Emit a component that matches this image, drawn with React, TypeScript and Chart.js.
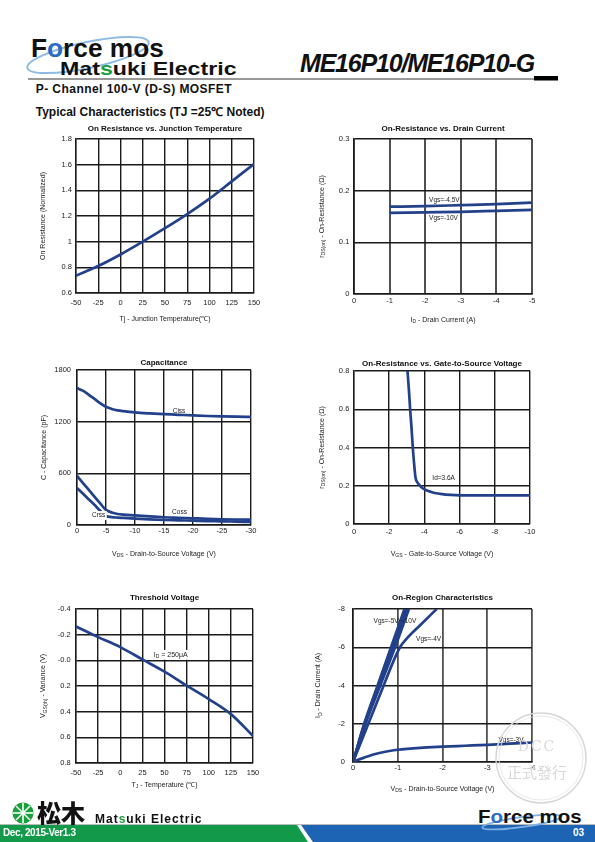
import React, { useEffect, useRef } from "react";
import { Chart, registerables } from "chart.js";

Chart.register(...registerables);

const FONT = '"Liberation Sans", Arial, Helvetica, sans-serif';
const LINE = "#22418a";

// ---------- Chart 1: On Resistance vs Junction Temperature ----------
const tjTemps = [-50, -25, 0, 25, 50, 75, 100, 125, 150];
const rdsNormalized = [0.735, 0.81, 0.9, 1.0, 1.105, 1.215, 1.335, 1.47, 1.605];
const c1XTicks = [-50, -25, 0, 25, 50, 75, 100, 125, 150];
const c1XLabels = ["-50", "-25", "0", "25", "50", "75", "100", "125", "150"];
const c1YTicks = [0.6, 0.8, 1, 1.2, 1.4, 1.6, 1.8];
const c1YLabels = ["0.6", "0.8", "1", "1.2", "1.4", "1.6", "1.8"];

// ---------- Chart 2: On-Resistance vs Drain Current ----------
const drainCurrents = [-1, -2, -3, -4, -5];
const rdsVgs45 = [0.169, 0.17, 0.172, 0.174, 0.177];
const rdsVgs10 = [0.157, 0.158, 0.159, 0.161, 0.163];
const c2XTicks = [0, -1, -2, -3, -4, -5];
const c2XLabels = ["0", "-1", "-2", "-3", "-4", "-5"];
const c2YTicks = [0, 0.1, 0.2, 0.3];
const c2YLabels = ["0", "0.1", "0.2", "0.3"];

// ---------- Chart 3: Capacitance ----------
const vdsCap = [0, -1, -2, -3, -4, -5, -6, -7, -8, -10, -12.5, -15, -17.5, -20, -22.5, -25, -27.5, -30];
const ciss = [1590, 1560, 1515, 1465, 1415, 1373, 1348, 1332, 1322, 1307, 1296, 1288, 1280, 1272, 1266, 1261, 1258, 1256];
const coss = [570, 490, 410, 330, 250, 175, 145, 128, 120, 112, 100, 90, 84, 78, 72, 67, 64, 62];
const crss = [430, 365, 300, 235, 165, 105, 92, 86, 82, 74, 65, 58, 54, 50, 46, 43, 39, 35];
const c3XTicks = [0, -5, -10, -15, -20, -25, -30];
const c3XLabels = ["0", "-5", "-10", "-15", "-20", "-25", "-30"];
const c3YTicks = [0, 600, 1200, 1800];
const c3YLabels = ["0", "600", "1200", "1800"];

// ---------- Chart 4: On-Resistance vs Gate-to-Source Voltage ----------
const vgsSweep = [-3.04, -3.12, -3.19, -3.27, -3.34, -3.42, -3.5, -3.62, -3.75, -3.9, -4.1, -4.35, -4.6, -5, -5.5, -6, -7, -8, -9, -10];
const rdsVsVgs = [0.8, 0.7, 0.6, 0.5, 0.4, 0.31, 0.24, 0.215, 0.2, 0.187, 0.177, 0.169, 0.162, 0.156, 0.152, 0.15, 0.15, 0.15, 0.15, 0.15];
const c4XTicks = [0, -2, -4, -6, -8, -10];
const c4XLabels = ["0", "-2", "-4", "-6", "-8", "-10"];
const c4YTicks = [0, 0.2, 0.4, 0.6, 0.8];
const c4YLabels = ["0", "0.2", "0.4", "0.6", "0.8"];

// ---------- Chart 5: Threshold Voltage ----------
const vthVariance = [-0.264, -0.181, -0.103, -0.007, 0.088, 0.197, 0.302, 0.419, 0.589];
const c5YTicks = [-0.4, -0.2, 0, 0.2, 0.4, 0.6, 0.8];
const c5YLabels = ["-0.4", "-0.2", "-0.0", "0.2", "0.4", "0.6", "0.8"];

// ---------- Chart 6: On-Region Characteristics ----------
const vdsVgs10 = [0, -0.25, -0.55, -0.85, -1.15];
const idVgs10 = [0, -2, -4, -6, -8];
const vdsVgs8 = [0, -0.26, -0.57, -0.88, -1.18];
const idVgs8 = [0, -2, -4, -6, -8];
const vdsVgs6 = [0, -0.27, -0.59, -0.91, -1.21];
const idVgs6 = [0, -2, -4, -6, -8];
const vdsVgs5 = [0, -0.28, -0.61, -0.94, -1.25];
const idVgs5 = [0, -2, -4, -6, -8];
const vdsVgs4 = [0, -0.3, -0.6, -0.9, -1.05, -1.2, -1.5, -1.87];
const idVgs4 = [0, -1.75, -3.5, -5.25, -6.0, -6.45, -7.15, -8];
const vdsVgs3 = [0, -0.1, -0.25, -0.5, -0.75, -1, -1.5, -2, -2.5, -3, -3.5, -4];
const idVgs3 = [0, -0.1, -0.23, -0.42, -0.55, -0.64, -0.74, -0.8, -0.85, -0.9, -0.96, -1.02];
const c6XTicks = [0, -1, -2, -3, -4];
const c6XLabels = ["0", "-1", "-2", "-3", "-4"];
const c6YTicks = [0, -2, -4, -6, -8];
const c6YLabels = ["0", "-2", "-4", "-6", "-8"];

// ---------- text helpers ----------
type Part = { t: string; sub: boolean };
function parseRich(text: string): Part[] {
  const parts: Part[] = [];
  const re = /_\{([^}]*)\}/g;
  let last = 0;
  let m: RegExpExecArray | null;
  while ((m = re.exec(text))) {
    if (m.index > last) parts.push({ t: text.slice(last, m.index), sub: false });
    parts.push({ t: m[1], sub: true });
    last = re.lastIndex;
  }
  if (last < text.length) parts.push({ t: text.slice(last), sub: false });
  return parts;
}

function drawRich(ctx: CanvasRenderingContext2D, text: string, x: number, y: number, rot: number, size: number, center: boolean, bg?: boolean) {
  const parts = parseRich(text);
  const main = `${size}px ${FONT}`;
  const sub = `${(size * 0.72).toFixed(2)}px ${FONT}`;
  let total = 0;
  const widths = parts.map((p) => {
    ctx.font = p.sub ? sub : main;
    const w = ctx.measureText(p.t).width;
    total += w;
    return w;
  });
  ctx.save();
  ctx.translate(x, y);
  ctx.rotate(rot);
  let px = center ? -total / 2 : 0;
  if (bg) {
    ctx.fillStyle = "#fff";
    ctx.fillRect(px - 1.5, -size * 0.7, total + 3, size * 1.4);
  }
  ctx.fillStyle = "#1a1a1a";
  ctx.textBaseline = "middle";
  ctx.textAlign = "left";
  parts.forEach((p, i) => {
    ctx.font = p.sub ? sub : main;
    ctx.fillText(p.t, px, p.sub ? size * 0.3 : 0);
    px += widths[i];
  });
  ctx.restore();
}

type Note = { x: number; y: number; text: string; bg?: boolean; size?: number };

const sheetText = {
  id: "sheetText",
  afterDraw(chart: any, _args: any, opts: any) {
    const ctx: CanvasRenderingContext2D = chart.ctx;
    const a = chart.chartArea;
    const cx = (a.left + a.right) / 2;
    const cy = (a.top + a.bottom) / 2;
    ctx.save();
    ctx.font = `bold 8px ${FONT}`;
    ctx.fillStyle = "#111";
    ctx.textAlign = "center";
    ctx.textBaseline = "middle";
    ctx.fillText(opts.title, cx, opts.titleY);
    drawRich(ctx, opts.xTitle, cx, opts.xTitleY, 0, 7, true);
    drawRich(ctx, opts.yTitle, opts.yTitleX, cy, -Math.PI / 2, 7, true);
    const xs = chart.scales.x;
    const ys = chart.scales.y;
    (opts.notes as Note[]).forEach((n) => {
      drawRich(ctx, n.text, xs.getPixelForValue(n.x), ys.getPixelForValue(n.y), 0, n.size || 6.5, false, n.bg);
    });
    ctx.restore();
  },
};

type Series = { xs: number[]; ys: number[] };
type Spec = {
  canvas: [number, number, number, number];
  plot: [number, number, number, number];
  title: string;
  titleY: number;
  xTitle: string;
  xTitleY: number;
  yTitle: string;
  yTitleX: number;
  xMin: number;
  xMax: number;
  xReverse: boolean;
  yMin: number;
  yMax: number;
  yReverse: boolean;
  xTicks: number[];
  xLabels: string[];
  yTicks: number[];
  yLabels: string[];
  xPad: number;
  yPad: number;
  series: Series[];
  notes: Note[];
  xGridColor?: string;
  xGridWidth?: number;
};

function buildConfig(s: Spec): any {
  const [cx, cy, cw, ch] = s.canvas;
  const [pl, pt, pr, pb] = s.plot;
  const gridColor = "#1a1a1a";
  const tickFont = { family: FONT, size: 7.5 };
  return {
    type: "line",
    data: {
      datasets: s.series.map((ser) => ({
        data: ser.xs.map((x, i) => ({ x, y: ser.ys[i] })),
        borderColor: LINE,
        borderWidth: 2.7,
        pointRadius: 0,
        fill: false,
        cubicInterpolationMode: "monotone",
      })),
    },
    plugins: [sheetText],
    options: {
      responsive: false,
      animation: false,
      devicePixelRatio: 1,
      events: [],
      layout: { padding: { left: 0, top: pt - cy, right: cx + cw - pr, bottom: 0 } },
      plugins: {
        legend: { display: false },
        tooltip: { enabled: false },
        title: { display: false },
        sheetText: {
          title: s.title,
          titleY: s.titleY - cy,
          xTitle: s.xTitle,
          xTitleY: s.xTitleY - cy,
          yTitle: s.yTitle,
          yTitleX: s.yTitleX - cx,
          notes: s.notes,
        },
      },
      scales: {
        x: {
          type: "linear",
          min: s.xMin,
          max: s.xMax,
          reverse: s.xReverse,
          afterFit: (sc: any) => {
            sc.height = cy + ch - pb;
          },
          afterBuildTicks: (sc: any) => {
            sc.ticks = s.xTicks.map((v) => ({ value: v }));
          },
          ticks: {
            callback: (_v: any, i: number) => s.xLabels[i],
            padding: s.xPad,
            font: tickFont,
            color: "#222",
            autoSkip: false,
            maxRotation: 0,
            minRotation: 0,
          },
          grid: { color: s.xGridColor || gridColor, lineWidth: s.xGridWidth || 1.4, drawTicks: false },
          border: { color: gridColor, width: 1.4 },
        },
        y: {
          type: "linear",
          min: s.yMin,
          max: s.yMax,
          reverse: s.yReverse,
          afterFit: (sc: any) => {
            sc.width = pl - cx;
          },
          afterBuildTicks: (sc: any) => {
            sc.ticks = s.yTicks.map((v) => ({ value: v }));
          },
          ticks: {
            callback: (_v: any, i: number) => s.yLabels[i],
            padding: s.yPad,
            font: tickFont,
            color: "#222",
            autoSkip: false,
          },
          grid: { color: gridColor, lineWidth: 1.4, drawTicks: false },
          border: { color: gridColor, width: 1.4 },
        },
      },
    },
  };
}

const specs: Spec[] = [
  {
    canvas: [30, 120, 240, 210],
    plot: [76, 139, 254, 293],
    title: "On Resistance vs. Junction Temperature",
    titleY: 129,
    xTitle: "Tj - Junction Temperature(℃)",
    xTitleY: 319,
    yTitle: "On Resistance (Normalized)",
    yTitleX: 43,
    xMin: -50, xMax: 150, xReverse: false,
    yMin: 0.6, yMax: 1.8, yReverse: false,
    xTicks: c1XTicks, xLabels: c1XLabels, yTicks: c1YTicks, yLabels: c1YLabels,
    xPad: 5.5, yPad: 4,
    series: [{ xs: tjTemps, ys: rdsNormalized }],
    notes: [],
  },
  {
    canvas: [310, 120, 240, 210],
    plot: [354, 139, 532, 294],
    title: "On-Resistance vs. Drain Current",
    titleY: 129,
    xTitle: "I_{D} - Drain Current (A)",
    xTitleY: 320,
    yTitle: "r_{DS(on)} - On-Resistance (Ω)",
    yTitleX: 322,
    xMin: -5, xMax: 0, xReverse: true,
    yMin: 0, yMax: 0.3, yReverse: false,
    xTicks: c2XTicks, xLabels: c2XLabels, yTicks: c2YTicks, yLabels: c2YLabels,
    xPad: 2, yPad: 4.7,
    series: [
      { xs: drainCurrents, ys: rdsVgs45 },
      { xs: drainCurrents, ys: rdsVgs10 },
    ],
    notes: [
      { x: -2.11, y: 0.182, text: "Vgs=-4.5V" },
      { x: -2.11, y: 0.147, text: "Vgs=-10V" },
    ],
    xGridColor: "#505050",
    xGridWidth: 2,
  },
  {
    canvas: [30, 355, 240, 210],
    plot: [77, 370, 251, 525],
    title: "Capacitance",
    titleY: 362.3,
    xTitle: "V_{DS} - Drain-to-Source Voltage (V)",
    xTitleY: 554,
    yTitle: "C - Capacitance (pF)",
    yTitleX: 44,
    xMin: -30, xMax: 0, xReverse: true,
    yMin: 0, yMax: 1800, yReverse: false,
    xTicks: c3XTicks, xLabels: c3XLabels, yTicks: c3YTicks, yLabels: c3YLabels,
    xPad: 1.8, yPad: 6,
    series: [
      { xs: vdsCap, ys: ciss },
      { xs: vdsCap, ys: coss },
      { xs: vdsCap, ys: crss },
    ],
    notes: [
      { x: -16.5, y: 1327, text: "Ciss" },
      { x: -16.4, y: 143, text: "Coss" },
      { x: -2.58, y: 109, text: "Crss", bg: true },
    ],
  },
  {
    canvas: [310, 355, 240, 210],
    plot: [354, 371, 530, 524],
    title: "On-Resistance vs. Gate-to-Source Voltage",
    titleY: 363.3,
    xTitle: "V_{GS} - Gate-to-Source Voltage (V)",
    xTitleY: 554,
    yTitle: "r_{DS(on)} - On-Resistance (Ω)",
    yTitleX: 321.7,
    xMin: -10, xMax: 0, xReverse: true,
    yMin: 0, yMax: 0.8, yReverse: false,
    xTicks: c4XTicks, xLabels: c4XLabels, yTicks: c4YTicks, yLabels: c4YLabels,
    xPad: 3.5, yPad: 4.7,
    series: [{ xs: vgsSweep, ys: rdsVsVgs }],
    notes: [{ x: -4.45, y: 0.238, text: "Id=3.6A" }],
  },
  {
    canvas: [30, 590, 240, 205],
    plot: [76, 609, 253, 763],
    title: "Threshold Voltage",
    titleY: 597.3,
    xTitle: "T_{J} - Temperature (℃)",
    xTitleY: 785,
    yTitle: "V_{GS(th)} - Variance (V)",
    yTitleX: 43.3,
    xMin: -50, xMax: 150, xReverse: false,
    yMin: -0.4, yMax: 0.8, yReverse: true,
    xTicks: c1XTicks, xLabels: c1XLabels, yTicks: c5YTicks, yLabels: c5YLabels,
    xPad: 5.8, yPad: 5.3,
    series: [{ xs: tjTemps, ys: vthVariance }],
    notes: [{ x: 37.8, y: -0.043, text: "I_{D} = 250μA", bg: true, size: 7 }],
  },
  {
    canvas: [310, 590, 240, 208],
    plot: [353, 609, 532, 762],
    title: "On-Region Characteristics",
    titleY: 597.3,
    xTitle: "V_{DS} - Drain-to-Source Voltage (V)",
    xTitleY: 789,
    yTitle: "I_{D} - Drain Current (A)",
    yTitleX: 318.3,
    xMin: -4, xMax: 0, xReverse: true,
    yMin: -8, yMax: 0, yReverse: true,
    xTicks: c6XTicks, xLabels: c6XLabels, yTicks: c6YTicks, yLabels: c6YLabels,
    xPad: 1.8, yPad: 8,
    series: [
      { xs: vdsVgs10, ys: idVgs10 },
      { xs: vdsVgs8, ys: idVgs8 },
      { xs: vdsVgs6, ys: idVgs6 },
      { xs: vdsVgs5, ys: idVgs5 },
      { xs: vdsVgs4, ys: idVgs4 },
      { xs: vdsVgs3, ys: idVgs3 },
    ],
    notes: [
      { x: -0.46, y: -7.36, text: "Vgs=-5V~-10V" },
      { x: -1.41, y: -6.44, text: "Vgs=-4V" },
      { x: -3.25, y: -1.16, text: "Vgs=-3V" },
    ],
    xGridColor: "#505050",
    xGridWidth: 1.8,
  },
];

function SheetChart({ spec }: { spec: Spec }) {
  const ref = useRef<HTMLCanvasElement>(null);
  useEffect(() => {
    if (!ref.current) return;
    const chart = new Chart(ref.current, buildConfig(spec));
    return () => chart.destroy();
  }, [spec]);
  const [x, y, w, h] = spec.canvas;
  return (
    <canvas
      ref={ref}
      width={w}
      height={h}
      style={{ position: "absolute", left: x, top: y, width: w, height: h }}
    />
  );
}

// Text placed so that its baseline sits at `base`
function Txt(props: {
  x: number;
  base: number;
  size: number;
  children: React.ReactNode;
  weight?: string | number;
  color?: string;
  italic?: boolean;
  ls?: number;
  sx?: number;
  family?: string;
}) {
  const { x, base, size, children, weight = "bold", color = "#111", italic = false, ls = 0, sx = 1, family = FONT } = props;
  return (
    <div
      style={{
        position: "absolute",
        left: x,
        top: base - 0.8465 * size,
        fontSize: size,
        lineHeight: `${size}px`,
        fontFamily: family,
        fontWeight: weight as any,
        fontStyle: italic ? "italic" : "normal",
        color,
        letterSpacing: ls,
        whiteSpace: "nowrap",
        transform: sx !== 1 ? `scaleX(${sx})` : undefined,
        transformOrigin: "left top",
      }}
    >
      {children}
    </div>
  );
}

export default function App() {
  return (
    <div
      style={{
        position: "absolute",
        left: 0,
        top: 0,
        width: 595,
        height: 842,
        overflow: "hidden",
        background: "#fff",
      }}
    >
      {/* background shapes */}
      <svg width={595} height={842} style={{ position: "absolute", left: 0, top: 0 }}>
        <ellipse cx={88} cy={55} rx={62} ry={13} transform="rotate(-12 88 55)" fill="none" stroke="#8dbbe6" strokeWidth={2} />
        <line x1={28} y1={79} x2={536} y2={79} stroke="#333" strokeWidth={1} />
        <rect x={534} y={76} width={24} height={4.5} fill="#000" />
        {/* footer */}
        <line x1={0} y1={824.5} x2={595} y2={824.5} stroke="#aaa" strokeWidth={0.8} />
        <polygon points="0,825 297,825 308,842 0,842" fill="#12994a" />
        <polygon points="301,825 595,825 595,842 313,842" fill="#1d64b4" />
        <ellipse cx={522} cy={822} rx={40} ry={5} transform="rotate(-8 522 822)" fill="none" stroke="#7fb0e0" strokeWidth={1.8} />
        <circle cx={23} cy={813} r={10.5} fill="#17a03c" />
        <line x1={13} y1={813} x2={33} y2={813} stroke="#fff" strokeWidth={1.6} />
        <line x1={23} y1={803} x2={23} y2={823} stroke="#fff" strokeWidth={1.6} />
        <line x1={16} y1={806} x2={30} y2={820} stroke="#fff" strokeWidth={1.4} />
        <line x1={30} y1={806} x2={16} y2={820} stroke="#fff" strokeWidth={1.4} />
      </svg>

      {/* header */}
      <Txt x={31} base={56.7} size={25} weight={900} sx={1.05}>
        <span>F</span>
        <span style={{ color: "#2b6cc4" }}>o</span>
        <span>rce mos</span>
      </Txt>
      <Txt x={60} base={75} size={19} weight={900} sx={1.22}>
        <span>Mat</span>
        <span style={{ color: "#18a03c" }}>s</span>
        <span>uki Electric</span>
      </Txt>
      <Txt x={300} base={71.7} size={25} italic ls={-1.2}>
        ME16P10/ME16P10-G
      </Txt>
      <Txt x={35.7} base={93.3} size={12} ls={0.45}>
        P- Channel 100-V (D-S) MOSFET
      </Txt>
      <Txt x={35.7} base={116} size={12}>
        Typical Characteristics (TJ =25℃ Noted)
      </Txt>

      {specs.map((s, i) => (
        <SheetChart key={i} spec={s} />
      ))}

      {/* footer text */}
      <div
        style={{
          position: "absolute",
          left: 37,
          top: 800,
          fontSize: 24,
          lineHeight: "24px",
          fontFamily: '"Noto Sans CJK JP", sans-serif',
          fontWeight: 900,
          color: "#111",
          whiteSpace: "nowrap",
        }}
      >
        松木
      </div>
      <Txt x={95} base={823} size={12} weight={900} ls={1}>
        <span>Mat</span>
        <span style={{ color: "#18a03c" }}>s</span>
        <span>uki Electric</span>
      </Txt>
      <Txt x={3} base={836.5} size={10} color="#fff" ls={-0.4}>
        Dec, 2015-Ver1.3
      </Txt>
      <Txt x={573} base={836.5} size={10} color="#fff">
        03
      </Txt>
      <Txt x={478} base={823} size={18} weight={900} sx={1.14}>
        <span>F</span>
        <span style={{ color: "#2b6cc4" }}>o</span>
        <span>rce mos</span>
      </Txt>

      {/* stamp watermark */}
      <svg width={595} height={842} style={{ position: "absolute", left: 0, top: 0, pointerEvents: "none" }}>
        <circle cx={541} cy={758} r={45} fill="none" stroke="#d6d6d6" strokeWidth={1.4} />
        <circle cx={541} cy={758} r={42} fill="none" stroke="#e2e2e2" strokeWidth={0.8} />
        <text x={537} y={751} textAnchor="middle" fontFamily='"DejaVu Serif", serif' fontSize={14} fill="#d8d8d8" letterSpacing={2}>
          DCC
        </text>
        <text x={537} y={778} textAnchor="middle" fontFamily='"Noto Sans CJK TC", sans-serif' fontSize={15} fill="#d8d8d8">
          正式發行
        </text>
      </svg>
    </div>
  );
}
